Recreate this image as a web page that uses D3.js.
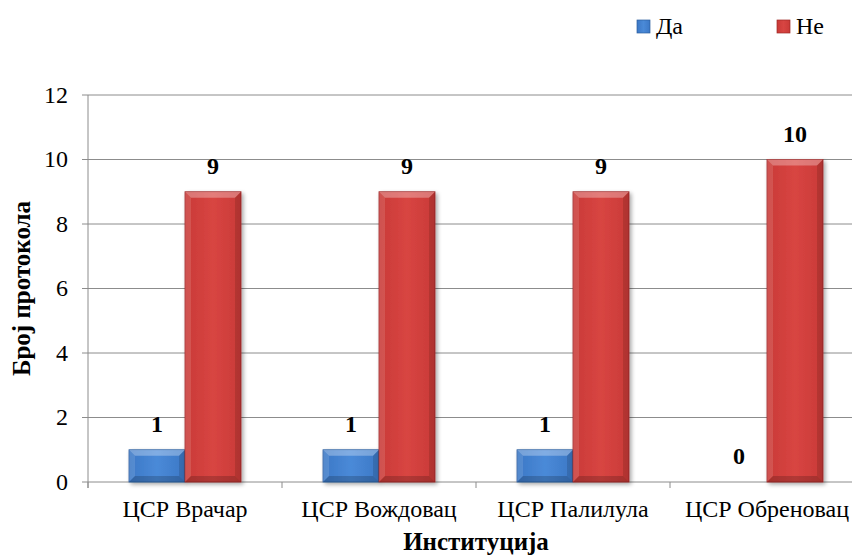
<!DOCTYPE html>
<html><head><meta charset="utf-8">
<script src="https://cdn.jsdelivr.net/npm/d3@7"></script>
<style>body{margin:0;background:#fff}svg{display:block}</style>
</head><body>
<script>
const categories = ["ЦСР Врачар","ЦСР Вождовац","ЦСР Палилула","ЦСР Обреновац"];
const seriesNames = ["Да","Не"];
const daValues = [1,1,1,0];
const neValues = [9,9,9,10];
const yTicks = [0,2,4,6,8,10,12];

const W=852,H=558;
const FONT="Liberation Serif";
const svg=d3.select("body").append("svg").attr("width",W).attr("height",H);
const m={left:88,top:95,right:864,bottom:482};
const x=d3.scaleBand().domain(categories).range([m.left,m.right]).paddingInner(0).paddingOuter(0);
const x1=d3.scaleBand().domain(seriesNames).range([0,x.bandwidth()]).paddingInner(0).paddingOuter(0.732);
const y=d3.scaleLinear().domain([0,12]).range([m.bottom,m.top]);

const defs=svg.append("defs");
const cols={"Да":["#4a8ad8","#3c78c6","#2c5f9f"],"Не":["#d84542","#c93a37","#9e2826"]};
seriesNames.forEach((s,i)=>{
  const g=defs.append("linearGradient").attr("id","g"+i).attr("x1",0).attr("x2",1).attr("y1",0).attr("y2",0);
  g.append("stop").attr("offset","0%").attr("stop-color",cols[s][1]);
  g.append("stop").attr("offset","50%").attr("stop-color",cols[s][0]);
  g.append("stop").attr("offset","100%").attr("stop-color",cols[s][1]);
});
const f=defs.append("filter").attr("id","sh").attr("x","-20%").attr("y","-20%").attr("width","150%").attr("height","150%");
f.append("feGaussianBlur").attr("in","SourceAlpha").attr("stdDeviation",2);
f.append("feOffset").attr("dx",2).attr("dy",2).attr("result","b");
f.append("feComponentTransfer").append("feFuncA").attr("type","linear").attr("slope",0.35);
const mg=f.append("feMerge");mg.append("feMergeNode");mg.append("feMergeNode").attr("in","SourceGraphic");

svg.append("g").selectAll("line").data(yTicks).join("line")
  .attr("x1",m.left-6).attr("x2",W).attr("y1",d=>y(d)).attr("y2",d=>y(d))
  .attr("stroke","#8c8c8c").attr("stroke-width",1);
svg.append("line").attr("x1",m.left).attr("x2",m.left).attr("y1",y(12)).attr("y2",y(0)+6).attr("stroke","#8c8c8c");
svg.append("g").selectAll("line").data(categories).join("line")
  .attr("x1",d=>x(d)).attr("x2",d=>x(d)).attr("y1",y(0)).attr("y2",y(0)+6).attr("stroke","#8c8c8c");
svg.append("g").selectAll("text").data(yTicks).join("text")
  .attr("x",68).attr("y",d=>y(d)).attr("dy","0.33em").attr("text-anchor","end")
  .style("font-family",FONT).attr("font-size",24).text(d=>d);

const data=categories.map((c,i)=>({c,vals:[{s:"Да",v:daValues[i]},{s:"Не",v:neValues[i]}]}));
const grp=svg.append("g").selectAll("g").data(data).join("g").attr("transform",d=>`translate(${x(d.c)},0)`);
grp.selectAll("rect").data(d=>d.vals.filter(e=>e.v>0)).join("rect")
  .attr("x",d=>x1(d.s)).attr("width",x1.bandwidth())
  .attr("y",d=>y(d.v)).attr("height",d=>y(0)-y(d.v))
  .attr("fill",d=>`url(#g${seriesNames.indexOf(d.s)})`)
  .attr("stroke",d=>cols[d.s][2]).attr("stroke-width",0.8)
  .attr("filter","url(#sh)");
// bevels: top (light), left (light), right (dark), bottom (dark)
const bev=[
  {k:"t",fill:"#fff",op:0.3},{k:"l",fill:"#fff",op:0.12},{k:"r",fill:"#000",op:0.12},{k:"b",fill:"#000",op:0.18}
];
grp.each(function(gd){
  const gg=d3.select(this);
  gd.vals.filter(e=>e.v>0).forEach(d=>{
    const x0=x1(d.s),w=x1.bandwidth(),t=y(d.v),b0=y(0),b=Math.min(6,(b0-t)/2);
    const P={
      t:`M${x0},${t}L${x0+w},${t}L${x0+w-b},${t+b}L${x0+b},${t+b}Z`,
      l:`M${x0},${t}L${x0+b},${t+b}L${x0+b},${b0-b}L${x0},${b0}Z`,
      r:`M${x0+w},${t}L${x0+w},${b0}L${x0+w-b},${b0-b}L${x0+w-b},${t+b}Z`,
      b:`M${x0},${b0}L${x0+b},${b0-b}L${x0+w-b},${b0-b}L${x0+w},${b0}Z`
    };
    bev.forEach(e=>gg.append("path").attr("d",P[e.k]).attr("fill",e.fill).attr("opacity",e.op));
  });
});
grp.selectAll("text").data(d=>d.vals).join("text")
  .attr("x",d=>x1(d.s)+x1.bandwidth()/2).attr("y",d=>y(d.v)-18)
  .attr("text-anchor","middle").style("font-family",FONT).attr("font-size",24).attr("font-weight","bold").text(d=>d.v);

svg.append("g").selectAll("text").data(categories).join("text")
  .attr("x",d=>x(d)+x.bandwidth()/2).attr("y",517).attr("text-anchor","middle")
  .style("font-family",FONT).attr("font-size",24).text(d=>d);

svg.append("text").attr("x",(m.left+m.right)/2).attr("y",550).attr("text-anchor","middle")
  .style("font-family",FONT).attr("font-size",25).attr("font-weight","bold").text("Институција");
svg.append("text").attr("transform",`translate(30,${(y(0)+y(12))/2}) rotate(-90)`).attr("text-anchor","middle")
  .style("font-family",FONT).attr("font-size",25).attr("font-weight","bold").text("Број протокола");

const lx=[637,777];
const lg=svg.append("g").selectAll("g").data(seriesNames).join("g").attr("transform",(d,i)=>`translate(${lx[i]},20)`);
lg.append("rect").attr("width",13).attr("height",13).attr("fill",(d,i)=>`url(#g${i})`).attr("stroke",d=>cols[d][2]).attr("stroke-width",0.7);
lg.append("text").attr("x",19).attr("y",14).style("font-family",FONT).attr("font-size",24).text(d=>d);
</script>
</body></html>
